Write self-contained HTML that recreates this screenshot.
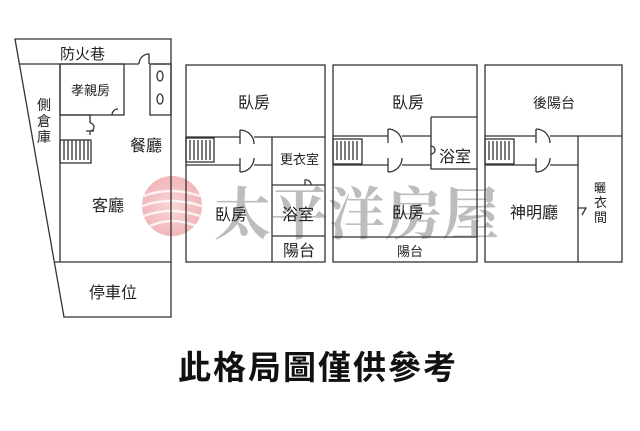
<!DOCTYPE html>
<html><head><meta charset="utf-8"><style>
body{margin:0;background:#fff;width:640px;height:426px;overflow:hidden}
svg text{font-family:"Liberation Sans","Noto Sans CJK TC",sans-serif;fill:#222}
</style></head><body>
<svg width="640" height="426" viewBox="0 0 640 426">
<defs><radialGradient id="g" cx="50%" cy="50%" r="50%"><stop offset="0" stop-color="#f6c9cb"/><stop offset="1" stop-color="#ee9ea2"/></radialGradient></defs>
<circle cx="172" cy="206" r="30" fill="url(#g)" opacity="0.75"/>
<g stroke="#fff" stroke-width="2.5" fill="none" opacity="0.8">
<path d="M144 196 Q170 186 200 196"/><path d="M142 206 Q170 196 202 206"/><path d="M144 216 Q170 206 200 216"/><path d="M150 226 Q172 216 196 226"/></g>
<text x="214" y="234" font-size="57" style="fill:#bdbdbd;font-family:'Noto Serif CJK SC',serif" font-weight="bold">太平洋房屋</text>
<g stroke="#333" stroke-width="1.3" fill="none">
<path d="M15 39 L171 39 L171 317 L64 317 Z"/>
<path d="M20 64 H139 M151 64 H171"/>
<path d="M139 64 A10 10 0 0 1 149 54 V64"/>
<rect x="60" y="64" width="64" height="51"/>
<rect x="150" y="64" width="21" height="51"/>
<ellipse cx="160" cy="76" rx="3" ry="5"/><ellipse cx="160" cy="99" rx="3" ry="5"/>
<path d="M60 64 V262 M55 262 H171"/>
<path d="M60 115 H90 V123 M90 131 V135"/>
<path d="M90 123 A4 4 0 0 1 90 131 M86 131 H94"/>
<path d="M112 115 A6 6 0 0 1 118 109"/>
<rect x="60" y="140" width="31" height="23"/>
<path d="M64 140 V160 M68 140 V160 M72 140 V160 M76 140 V160 M80 140 V160 M84 140 V160 M88 140 V160"/>
<rect x="186" y="65" width="139" height="197"/>
<path d="M186 137 H240 M254 137 H325 M186 165 H240 M254 165 H272 M272 137 V262 M272 185 H325 M272 236 H325"/>
<path d="M240 130 V144 M240 130 A14 14 0 0 1 254 144"/>
<path d="M240 158 V172 M240 172 A14 14 0 0 0 254 158"/>
<rect x="186" y="138" width="28" height="24"/>
<path d="M190 140 V160 M194 140 V160 M198 140 V160 M202 140 V160 M206 140 V160 M210 140 V160"/>
<path d="M305 185 V180 A5 5 0 0 1 311 185"/>
<rect x="333" y="65" width="144" height="197"/>
<path d="M333 136 H388 M402 136 H431 M333 165 H388 M402 165 H431 M431 117 H477 M431 117 V169 H477 M333 237 H477"/>
<path d="M388 129 V143 M388 129 A14 14 0 0 1 402 143"/>
<path d="M388 158 V172 M388 172 A14 14 0 0 0 402 158"/>
<path d="M431 146 A4 4 0 0 1 431 154"/>
<rect x="333" y="139" width="29" height="25"/>
<path d="M337 141 V160 M341 141 V160 M345 141 V160 M349 141 V160 M353 141 V160 M357 141 V160"/>
<rect x="485" y="65" width="137" height="197"/>
<path d="M485 136 H536 M550 136 H622 M485 165 H536 M550 165 H578 M578 136 V262"/>
<path d="M536 129 V143 M536 129 A14 14 0 0 1 550 143"/>
<path d="M536 158 V172 M536 172 A14 14 0 0 0 550 158"/>
<path d="M578 208 H586 L582 215"/>
<rect x="485" y="139" width="29" height="25"/>
<path d="M489 141 V160 M493 141 V160 M497 141 V160 M501 141 V160 M505 141 V160 M509 141 V160"/>
</g>
<g font-size="16">
<text x="60" y="59" font-size="15">防火巷</text>
<text x="71" y="95" font-size="13">孝親房</text>
<text x="130" y="151">餐廳</text>
<text x="92" y="211">客廳</text>
<text x="89" y="298">停車位</text>
<text x="37" y="110" font-size="14">側</text><text x="37" y="126" font-size="14">倉</text><text x="37" y="142" font-size="14">庫</text>
<text x="238" y="108">臥房</text>
<text x="215" y="220">臥房</text>
<text x="280" y="164" font-size="13">更衣室</text>
<text x="282" y="220">浴室</text>
<text x="283" y="256">陽台</text>
<text x="392" y="108">臥房</text>
<text x="439" y="162">浴室</text>
<text x="392" y="218">臥房</text>
<text x="397" y="256" font-size="13">陽台</text>
<text x="533" y="108" font-size="14">後陽台</text>
<text x="510" y="218">神明廳</text>
<text x="594" y="192" font-size="12">曬</text><text x="594" y="207" font-size="13">衣</text><text x="594" y="222" font-size="13">間</text>
</g>
<text x="318" y="379" font-size="33" font-weight="bold" text-anchor="middle" letter-spacing="2" style="fill:#111">此格局圖僅供參考</text>
</svg>
</body></html>
